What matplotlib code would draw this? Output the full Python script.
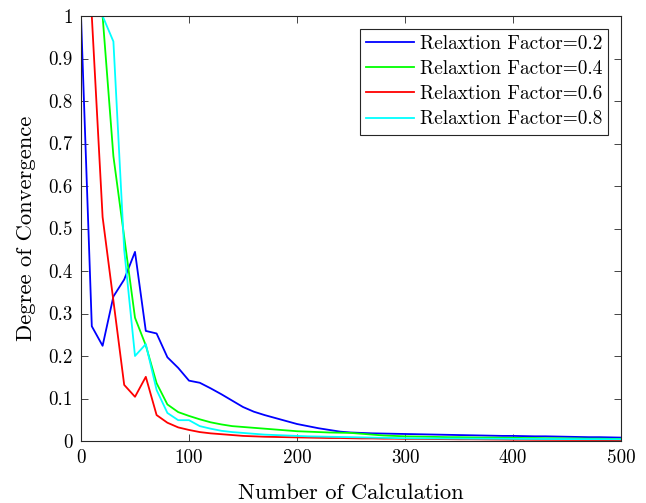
import matplotlib
matplotlib.use("Agg")
import matplotlib.pyplot as plt
import numpy as np

plt.rcParams['font.family'] = ['cmr10', 'DejaVu Serif']
plt.rcParams['mathtext.fontset'] = 'cm'
plt.rcParams['axes.formatter.use_mathtext'] = True

iterations = list(range(0, 510, 10))

factor_02 = [1.0, 0.27, 0.224, 0.34, 0.38, 0.445, 0.259, 0.253, 0.197, 0.172,
             0.142, 0.137, 0.124, 0.110, 0.095, 0.080, 0.069, 0.061, 0.054, 0.047,
             0.040, 0.035, 0.030, 0.026, 0.022, 0.020, 0.019, 0.018, 0.0175, 0.017,
             0.0165, 0.016, 0.0155, 0.015, 0.0145, 0.014, 0.0135, 0.013, 0.0125, 0.012,
             0.012, 0.0115, 0.011, 0.011, 0.0105, 0.010, 0.0095, 0.009, 0.009, 0.0085,
             0.008]
factor_04 = [1.0, 1.0, 1.0, 0.67, 0.48, 0.29, 0.225, 0.136, 0.086, 0.068,
             0.059, 0.051, 0.044, 0.039, 0.035, 0.033, 0.031, 0.029, 0.027, 0.025,
             0.023, 0.022, 0.021, 0.020, 0.0195, 0.019, 0.017, 0.015, 0.013, 0.012,
             0.011, 0.0105, 0.010, 0.0095, 0.009, 0.009, 0.0085, 0.008, 0.008, 0.0075,
             0.0075, 0.007, 0.007, 0.0065, 0.0065, 0.006, 0.006, 0.0055, 0.0055, 0.005,
             0.005]
factor_06 = [1.0, 1.0, 0.527, 0.33, 0.132, 0.104, 0.151, 0.061, 0.043, 0.032,
             0.026, 0.021, 0.018, 0.016, 0.014, 0.012, 0.011, 0.010, 0.0095, 0.009,
             0.0085, 0.008, 0.0075, 0.007, 0.007, 0.0065, 0.006, 0.006, 0.0055, 0.0055,
             0.005, 0.005, 0.0048, 0.0045, 0.0043, 0.004, 0.004, 0.0038, 0.0035, 0.0033,
             0.003, 0.003, 0.0028, 0.0027, 0.0026, 0.0025, 0.0024, 0.0023, 0.0022, 0.0021,
             0.002]
factor_08 = [1.0, 1.0, 1.0, 0.94, 0.45, 0.20, 0.228, 0.12, 0.066, 0.049,
             0.049, 0.035, 0.029, 0.024, 0.021, 0.019, 0.017, 0.015, 0.014, 0.013,
             0.012, 0.011, 0.0105, 0.010, 0.0095, 0.009, 0.0085, 0.008, 0.0075, 0.007,
             0.0065, 0.0063, 0.0062, 0.006, 0.0058, 0.0057, 0.0055, 0.0054, 0.0053, 0.0052,
             0.005, 0.0049, 0.0048, 0.0047, 0.0046, 0.0045, 0.0044, 0.0043, 0.0042, 0.0041,
             0.004]

series = [factor_02, factor_04, factor_06, factor_08]
labels = ["Relaxtion Factor=0.2", "Relaxtion Factor=0.4",
          "Relaxtion Factor=0.6", "Relaxtion Factor=0.8"]
colors = ["#0000ff", "#00ff00", "#ff0000", "#00ffff"]

x_ticks = [0, 100, 200, 300, 400, 500]
x_ticklabels = ["0", "100", "200", "300", "400", "500"]
y_ticks = [0, 0.1, 0.2, 0.3, 0.4, 0.5, 0.6, 0.7, 0.8, 0.9, 1]
y_ticklabels = ["0", "0.1", "0.2", "0.3", "0.4", "0.5", "0.6", "0.7", "0.8", "0.9", "1"]

fig = plt.figure(figsize=(6.46, 5.03), dpi=100)
ax = fig.add_axes([81/646, 1-441/503, 540/646, 425/503])

for s, lab, c in zip(series, labels, colors):
    ax.plot(iterations, s, color=c, lw=1.3, label=lab)

ax.set_xlim(0, 500)
ax.set_ylim(0, 1)
ax.set_xticks(x_ticks)
ax.set_xticklabels(x_ticklabels)
ax.set_yticks(y_ticks)
ax.set_yticklabels(y_ticklabels)
ax.tick_params(direction='in', top=True, right=True, labelsize=13.7,
               color='#262626', length=5, width=0.6, pad=6)
for sp in ax.spines.values():
    sp.set_color('#262626')
    sp.set_linewidth(0.8)

ax.set_xlabel("Number of Calculation", fontsize=16.3, labelpad=12)
ax.set_ylabel("Degree of Convergence", fontsize=16.3, labelpad=9)

leg = ax.legend(loc='upper right', fontsize=13.9, frameon=True, fancybox=False,
                edgecolor='#262626', framealpha=1, handlelength=2.5,
                borderaxespad=0.65, labelspacing=0.38, handletextpad=0.3,
                borderpad=0.32)
leg.get_frame().set_linewidth(0.8)

fig.savefig("out.png", dpi=100)
